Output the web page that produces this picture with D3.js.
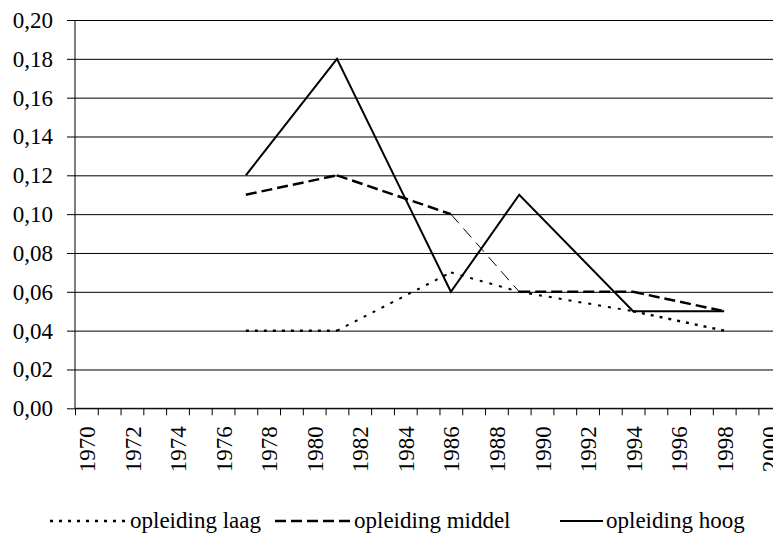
<!DOCTYPE html>
<html>
<head>
<meta charset="utf-8">
<script src="https://cdn.jsdelivr.net/npm/d3@7"></script>
<style>
  html, body { margin: 0; padding: 0; background: #fff; overflow: hidden; }
  svg { display: block; }
</style>
</head>
<body>
<svg id="chart" width="773" height="535" font-family="Liberation Serif"></svg>
<script>
// ---- data ----
const years = [1977, 1981, 1986, 1989, 1994, 1998];
const laag   = [0.04, 0.04, 0.07, 0.06, 0.05, 0.04];
const middel = [0.11, 0.12, 0.10, 0.06, 0.06, 0.05];
const hoog   = [0.12, 0.18, 0.06, 0.11, 0.05, 0.05];
const seriesNames = ["opleiding laag", "opleiding middel", "opleiding hoog"];
const axisYears = d3.range(1970, 2001);          // categories 1970..2000
const labelYears = d3.range(1970, 2001, 2);      // tick labels
const yTicks = [0, 0.02, 0.04, 0.06, 0.08, 0.10, 0.12, 0.14, 0.16, 0.18, 0.20];

// ---- layout ----
const svg = d3.select("#chart");
const FONT = "Liberation Serif";
const mLeft = 75, mTop = 20, mBottom = 408.3;
const band = 22.78;
const x = d3.scaleLinear()
  .domain([axisYears[0] - 0.5, axisYears[axisYears.length - 1] + 0.5])
  .range([mLeft, mLeft + band * axisYears.length]);
const y = d3.scaleLinear().domain([0, 0.2]).range([mBottom, mTop]);

const nl = d3.formatLocale({decimal: ",", thousands: ".", grouping: [3], currency: ["", ""]});
const fmt = nl.format(".2f");

// gridlines + y axis
const yAxis = d3.axisLeft(y).tickValues(yTicks).tickFormat(fmt)
  .tickSize(8).tickPadding(14);
const gy = svg.append("g").attr("transform", `translate(${mLeft},0)`).call(yAxis)
  .attr("font-family", FONT).attr("font-size", 23);
gy.select(".domain").remove();
gy.selectAll(".tick line").attr("stroke", "#000");
gy.selectAll(".tick text").attr("font-family", FONT).attr("font-size", 23).attr("fill", "#000");
gy.selectAll(".tick").append("line")
  .attr("class", "grid")
  .attr("x1", 0).attr("x2", 773 - mLeft)
  .attr("stroke", "#000").attr("stroke-width", 1);
svg.append("line")
  .attr("x1", mLeft).attr("x2", mLeft)
  .attr("y1", mTop).attr("y2", mBottom)
  .attr("stroke", "#000");

// x axis ticks at category boundaries
const boundaries = axisYears.map(d => d - 0.5).concat([axisYears[axisYears.length - 1] + 0.5]);
const xAxisTicks = d3.axisBottom(x).tickValues(boundaries).tickFormat("").tickSize(7).tickSizeOuter(0);
const gx = svg.append("g").attr("transform", `translate(0,${mBottom})`).call(xAxisTicks);
gx.select(".domain").remove();
gx.selectAll(".tick line").attr("stroke", "#000");
svg.append("line").attr("x1", mLeft).attr("x2", 773).attr("y1", mBottom).attr("y2", mBottom).attr("stroke", "#000");

// x labels rotated
const xLabels = d3.axisBottom(x).tickValues(labelYears).tickFormat(d3.format("d")).tickSize(0);
const gxl = svg.append("g").attr("transform", `translate(0,${mBottom})`).call(xLabels)
  .attr("font-family", FONT).attr("font-size", 23);
gxl.select(".domain").remove();
gxl.selectAll(".tick text")
  .attr("font-family", FONT).attr("font-size", 23).attr("fill", "#000")
  .attr("y", 0).attr("dy", "0.35em")
  .attr("text-anchor", "end")
  .attr("transform", "translate(0,18) rotate(-90)");

// ---- lines (drawn segment by segment so one segment can be styled thinner) ----
const styles = [
  {dash: "3,6", width: 2.5, segWidth: [2.5, 2, 2, 2, 2.5], segDash: ["3,6", "3,7", "3,7", "3,7", "3,6"]},
  {dash: "11,5", width: 2.5, segWidth: [2.5, 2.5, 1, 2.5, 2.5], segDash: ["11,5", "11,5", "12,7", "11,5", "11,5"]},
  {dash: null, width: 2, segWidth: [2, 2, 2, 2, 2], segDash: [null, null, null, null, null]}
];
const data = [laag, middel, hoog];
const line = d3.line().x(d => x(d[0])).y(d => y(d[1]));
data.forEach((vals, i) => {
  const pts = years.map((yr, j) => [yr, vals[j]]);
  if (i === 2) {
    svg.append("path")
      .attr("d", line(pts))
      .attr("fill", "none").attr("stroke", "#000")
      .attr("stroke-width", styles[i].width)
      .attr("stroke-linejoin", "miter");
  } else {
    d3.pairs(pts).forEach((seg, k) => {
      svg.append("path")
        .attr("d", line(seg))
        .attr("fill", "none").attr("stroke", "#000")
        .attr("stroke-width", styles[i].segWidth[k])
        .attr("stroke-dasharray", styles[i].segDash[k]);
    });
  }
});

// ---- legend ----
const legY = 521;
const legendItems = [
  {x1: 50, x2: 126, tx: 130},
  {x1: 275, x2: 350, tx: 354},
  {x1: 560, x2: 603, tx: 606}
];
legendItems.forEach((it, i) => {
  svg.append("line")
    .attr("x1", it.x1).attr("x2", it.x2).attr("y1", legY).attr("y2", legY)
    .attr("stroke", "#000").attr("stroke-width", styles[i].width)
    .attr("stroke-dasharray", styles[i].dash);
  svg.append("text")
    .attr("x", it.tx).attr("y", legY).attr("dy", "0.3em")
    .attr("font-family", FONT).attr("font-size", 23).attr("fill", "#000")
    .text(seriesNames[i]);
});
</script>
</body>
</html>
